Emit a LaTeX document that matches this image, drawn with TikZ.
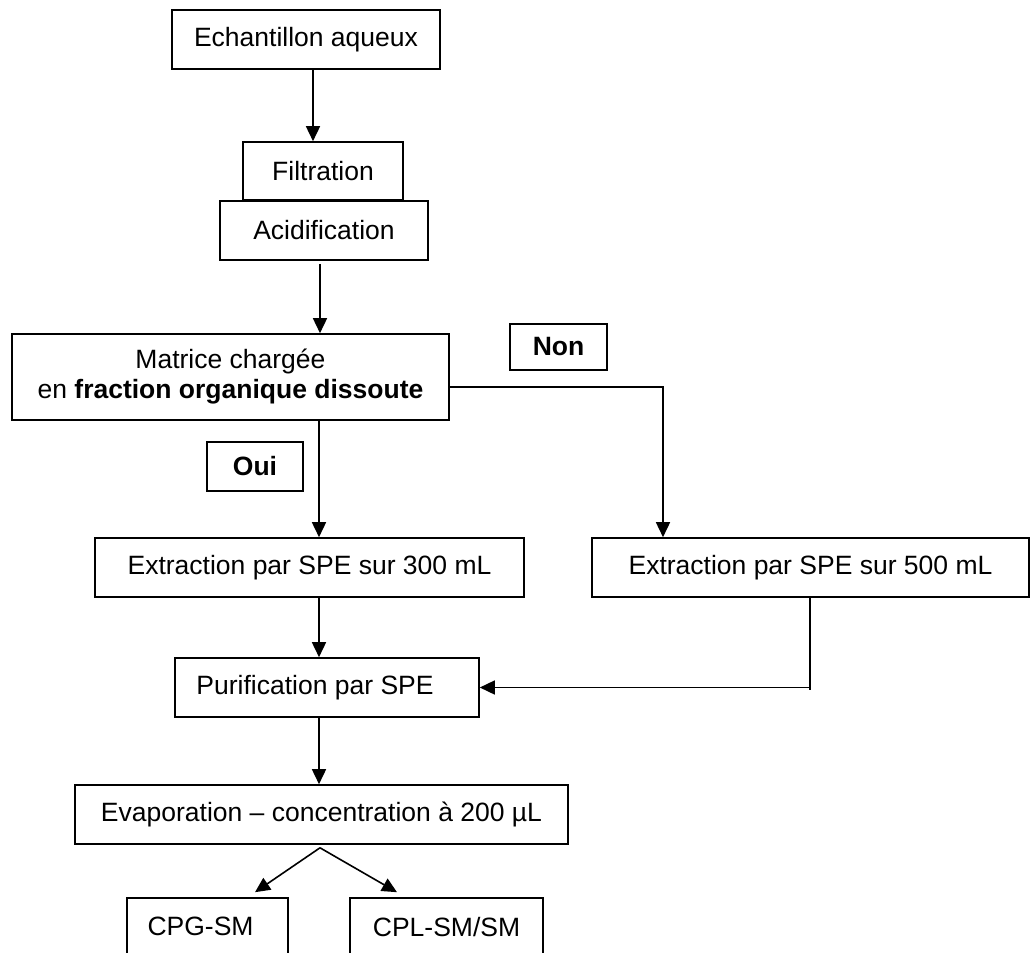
\documentclass[tikz,border=0pt]{standalone}
\usepackage{fontspec}
\setmainfont{Liberation Sans}
\usetikzlibrary{arrows.meta}
\begin{document}
\begin{tikzpicture}[x=1pt,y=-1pt,
  box/.style={draw, line width=1.6pt, inner sep=0pt, font=\fontsize{26.5}{30}\selectfont, align=center},
  arr/.style={line width=1.6pt, -{Triangle[width=14pt,length=15pt]}},
  ln/.style={line width=1.6pt}]
\useasboundingbox (0,0) rectangle (1031,953);
\clip (0,0) rectangle (1031,953);
\node[box, minimum width=268pt, minimum height=59pt] (ech) at (306,39.5) {Echantillon aqueux};
\node[box, minimum width=160pt, minimum height=58pt] (filt) at (323,171) {Filtration};
\node[box, fill=white, minimum width=208pt, minimum height=59pt] (acid) at (324,230.5) {Acidification};
\node[box, minimum width=437pt, minimum height=86pt] (mat) at (230.5,377) {Matrice chargée\\en \textbf{fraction organique dissoute}};
\node[box, minimum width=97pt, minimum height=46pt] (non) at (558.5,347) {\textbf{Non}};
\node[box, minimum width=96pt, minimum height=49pt] (oui) at (255,466.5) {\textbf{Oui}};
\node[box, minimum width=429pt, minimum height=59pt] (e300) at (309.5,567.5) {Extraction par SPE sur 300 mL};
\node[box, minimum width=437pt, minimum height=59pt] (e500) at (810.5,567.5) {Extraction par SPE sur 500 mL};
\node[box, minimum width=304pt, minimum height=59pt] (puri) at (327,687.5) {Purification par SPE\hspace*{24pt}};
\node[box, minimum width=493pt, minimum height=59pt] (evap) at (321.5,814.5) {Evaporation -- concentration à 200 µL};
\node[box, minimum width=161pt, minimum height=64pt] (cpg) at (207.5,930) {\raisebox{7pt}{CPG-SM}\hspace*{14pt}};
\node[box, minimum width=193pt, minimum height=64pt] (cpl) at (446.5,930) {\raisebox{7pt}{CPL-SM/SM}};
\coordinate (k) at (810,687.5);
\draw[arr] ([xshift=7pt]ech.south) -- ([xshift=-10pt]filt.north);
\draw[arr] ([xshift=-4pt,yshift=-3pt]acid.south) -- ([xshift=89.5pt]mat.north);
\draw[arr] ([xshift=88.5pt]mat.south) -- ([xshift=9.5pt]e300.north);
\draw[arr] ([yshift=-10pt]mat.east) -| ([xshift=-147.5pt]e500.north);
\draw[ln] ([xshift=-0.5pt]e500.south) -- ([yshift=-2.5pt]k);
\draw[arr] (k) -- (puri.east);
\draw[arr] ([xshift=9.5pt]e300.south) -- ([xshift=-8pt]puri.north);
\draw[arr] ([xshift=-8pt]puri.south) -- ([xshift=-2.5pt]evap.north);
\draw[arr] ([xshift=-1.5pt,yshift=-3pt]evap.south) -- ([xshift=47.5pt,yshift=5pt]cpg.north);
\draw[arr] ([xshift=-1.5pt,yshift=-3pt]evap.south) -- ([xshift=-49.5pt,yshift=5pt]cpl.north);
\end{tikzpicture}
\end{document}
